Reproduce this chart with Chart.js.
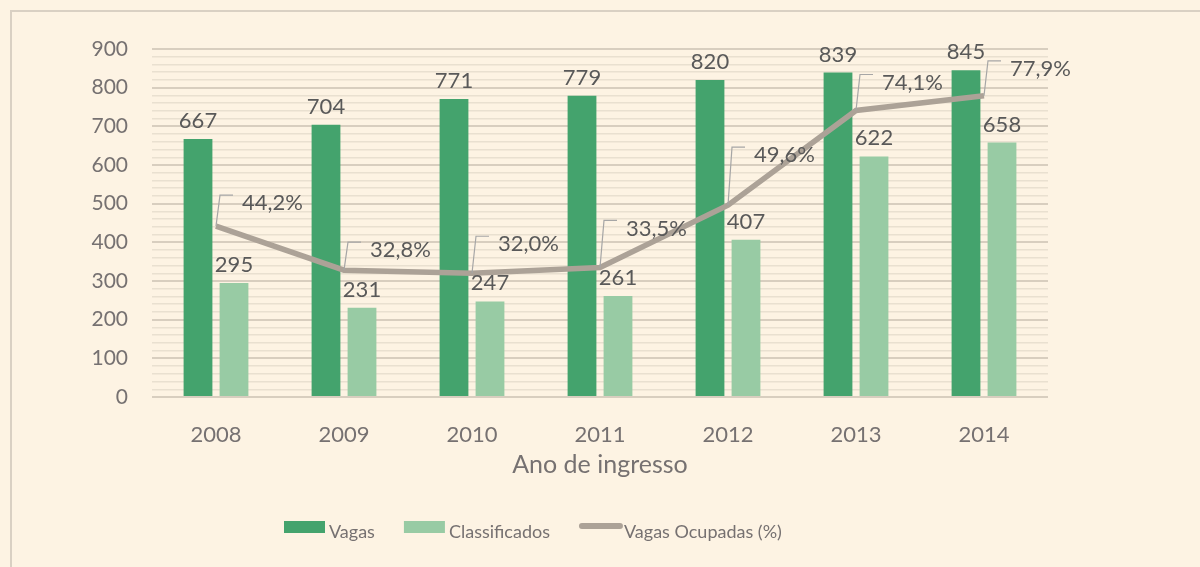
<!DOCTYPE html>
<html lang="pt-BR">
<head>
    <meta charset="UTF-8">
    <title>Vagas e Classificados por Ano de Ingresso</title>
    <script src="https://cdn.jsdelivr.net/npm/chart.js"></script>
    <style>
        html, body { margin: 0; padding: 0; background: #fdf3e3; }
        #wrap { width: 1200px; height: 567px; position: relative; }
    </style>
</head>
<body>
    <div id="wrap"><canvas id="grafico" width="1200" height="567"></canvas></div>

    <script>
        // Dados
        const anos = ['2008', '2009', '2010', '2011', '2012', '2013', '2014'];
        const vagas = [667, 704, 771, 779, 820, 839, 845];
        const classificados = [295, 231, 247, 261, 407, 622, 658];
        const vagasOcupadas = [44.2, 32.8, 32.0, 33.5, 49.6, 74.1, 77.9];
        const marcasY = [0, 100, 200, 300, 400, 500, 600, 700, 800, 900];

        // altura (px) da linha de chamada de cada rótulo percentual
        const alturaChamada = [31, 28, 37, 47, 58, 36, 35];

        const corVagas = '#44a36d';
        const corClassif = '#98cba4';
        const corLinha = '#aca297';
        const corTexto = '#595959';
        const corEixo = '#767171';
        const fonte = 'Lato';

        const fmtPct = v => v.toFixed(1).replace('.', ',') + '%';

        // fundo e moldura
        const fundo = {
            id: 'fundo',
            beforeDraw(chart) {
                const ctx = chart.ctx;
                ctx.save();
                ctx.fillStyle = '#fdf3e3';
                ctx.fillRect(0, 0, chart.width, chart.height);
                ctx.strokeStyle = '#d9d0c3';
                ctx.lineWidth = 2;
                ctx.beginPath();
                ctx.moveTo(11, chart.height + 5);
                ctx.lineTo(11, 11);
                ctx.lineTo(chart.width + 5, 11);
                ctx.stroke();
                ctx.restore();
            }
        };

        // rótulos de dados
        const rotulos = {
            id: 'rotulos',
            afterDatasetsDraw(chart) {
                const ctx = chart.ctx;
                ctx.save();
                ctx.font = '22px ' + fonte;
                ctx.fillStyle = corTexto;

                [0, 1].forEach(i => {
                    const meta = chart.getDatasetMeta(i);
                    const dados = chart.data.datasets[i].data;
                    ctx.textAlign = 'center';
                    ctx.textBaseline = 'alphabetic';
                    meta.data.forEach((bar, j) => {
                        ctx.fillText(String(dados[j]), bar.x, bar.y - 11);
                    });
                });

                const metaL = chart.getDatasetMeta(2);
                const dadosL = chart.data.datasets[2].data;
                metaL.data.forEach((pt, j) => {
                    const topo = pt.y - alturaChamada[j];
                    ctx.strokeStyle = '#a6a6a6';
                    ctx.lineWidth = 1.2;
                    ctx.beginPath();
                    ctx.moveTo(pt.x, pt.y);
                    ctx.lineTo(pt.x + 4, topo);
                    ctx.lineTo(pt.x + 17, topo);
                    ctx.stroke();
                    ctx.textAlign = 'left';
                    ctx.textBaseline = 'middle';
                    ctx.fillText(fmtPct(dadosL[j]), pt.x + 26, topo + 8);
                });
                ctx.restore();
            }
        };

        // legenda desenhada à mão, no estilo do original
        const legenda = {
            id: 'legenda',
            afterDraw(chart) {
                const ctx = chart.ctx;
                ctx.save();
                ctx.font = '18px ' + fonte;
                ctx.textAlign = 'left';
                ctx.textBaseline = 'middle';
                let x = 284;
                const y = 527;
                chart.data.datasets.forEach(ds => {
                    if (ds.type === 'line') {
                        ctx.strokeStyle = ds.borderColor;
                        ctx.lineWidth = 6;
                        ctx.lineCap = 'round';
                        ctx.beginPath();
                        ctx.moveTo(x + 3, y - 1);
                        ctx.lineTo(x + 41, y - 1);
                        ctx.stroke();
                    } else {
                        ctx.fillStyle = ds.backgroundColor;
                        ctx.fillRect(x, y - 6, 41, 12);
                    }
                    ctx.fillStyle = corEixo;
                    ctx.fillText(ds.label, x + 45, y + 5);
                    x += 45 + ctx.measureText(ds.label).width + 29;
                });
                ctx.restore();
            }
        };

        document.addEventListener('DOMContentLoaded', function () {
            const ctx = document.getElementById('grafico').getContext('2d');
            new Chart(ctx, {
                data: {
                    labels: anos,
                    datasets: [
                        {
                            type: 'bar',
                            label: 'Vagas',
                            data: vagas,
                            backgroundColor: corVagas,
                            categoryPercentage: 0.5625,
                            barPercentage: 0.8,
                            order: 2
                        },
                        {
                            type: 'bar',
                            label: 'Classificados',
                            data: classificados,
                            backgroundColor: corClassif,
                            categoryPercentage: 0.5625,
                            barPercentage: 0.8,
                            order: 2
                        },
                        {
                            type: 'line',
                            label: 'Vagas Ocupadas (%)',
                            data: vagasOcupadas,
                            yAxisID: 'y2',
                            borderColor: corLinha,
                            backgroundColor: corLinha,
                            borderWidth: 5.5,
                            pointRadius: 0,
                            tension: 0,
                            order: 1
                        }
                    ]
                },
                options: {
                    responsive: false,
                    animation: false,
                    layout: {
                        padding: { top: 49, right: 152, bottom: 77, left: 0 }
                    },
                    plugins: {
                        legend: { display: false },
                        tooltip: { enabled: false }
                    },
                    scales: {
                        x: {
                            grid: { display: false },
                            border: { display: false },
                            ticks: {
                                color: corEixo,
                                font: { family: fonte, size: 22 },
                                padding: 17
                            },
                            title: {
                                display: true,
                                text: 'Ano de ingresso',
                                color: corEixo,
                                font: { family: fonte, size: 25 },
                                padding: { top: 0, bottom: 10 }
                            },
                            afterFit(scale) { scale.height = 93; }
                        },
                        y: {
                            min: 0,
                            max: 900,
                            border: { display: false },
                            grid: {
                                drawTicks: false,
                                color: c => marcasY.includes(c.tick.value) ? '#d8cebf' : '#e9e0d0',
                                lineWidth: c => marcasY.includes(c.tick.value) ? 2 : 1.5
                            },
                            ticks: {
                                stepSize: 20,
                                autoSkip: false,
                                color: corEixo,
                                font: { family: fonte, size: 21 },
                                padding: 24,
                                callback: v => marcasY.includes(v) ? String(v) : ''
                            },
                            afterFit(scale) { scale.width = 152; }
                        },
                        y2: {
                            display: false,
                            min: 0,
                            max: 90
                        }
                    }
                },
                plugins: [fundo, rotulos, legenda]
            });
        });
    </script>
</body>
</html>
